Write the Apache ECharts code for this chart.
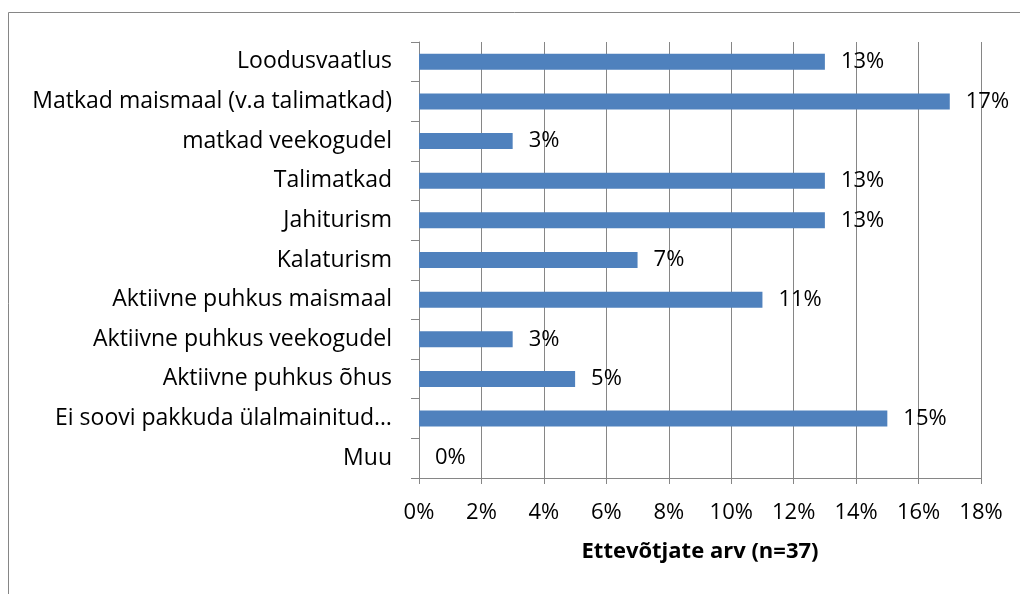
<!DOCTYPE html>
<html>
<head>
<meta charset="utf-8">
<script src="https://cdn.jsdelivr.net/npm/echarts@6/dist/echarts.min.js"></script>
<style>
  html, body { margin: 0; padding: 0; background: #fff; }
  #chart { width: 1020px; height: 594px; }
</style>
</head>
<body>
<div id="chart"></div>
<script>
// andmed ülevalt alla
const categories = [
  'Loodusvaatlus',
  'Matkad maismaal (v.a talimatkad)',
  'matkad veekogudel',
  'Talimatkad',
  'Jahiturism',
  'Kalaturism',
  'Aktiivne puhkus maismaal',
  'Aktiivne puhkus veekogudel',
  'Aktiivne puhkus õhus',
  'Ei soovi pakkuda ülalmainitud…',
  'Muu'
];
const values = [13, 17, 3, 13, 13, 7, 11, 3, 5, 15, 0];
const xTicks = [0, 2, 4, 6, 8, 10, 12, 14, 16, 18];

const chart = echarts.init(document.getElementById('chart'));
const font = '"Open Sans", sans-serif';
const grey = '#868686';

chart.setOption({
  animation: false,
  textStyle: { fontFamily: font },
  graphic: [{
    type: 'rect',
    shape: { x: 8.5, y: 12.5, width: 1100, height: 700 },
    style: { fill: 'none', stroke: grey, lineWidth: 1 },
    silent: true
  }],
  grid: { left: 419, right: 39, top: 42, bottom: 116 },
  xAxis: {
    type: 'value',
    min: xTicks[0],
    max: xTicks[xTicks.length - 1],
    interval: 2,
    name: 'Ettevõtjate arv (n=37)',
    nameLocation: 'middle',
    nameGap: 63,
    nameTextStyle: { fontSize: 22, fontWeight: 'bold', color: '#000', fontFamily: font },
    axisLine: { show: true, lineStyle: { color: grey } },
    axisTick: { show: true, length: 6, lineStyle: { color: grey } },
    axisLabel: { formatter: '{value}%', fontSize: 22, color: '#000', margin: 24, fontFamily: font },
    splitLine: { show: true, lineStyle: { color: grey } }
  },
  yAxis: {
    type: 'category',
    data: categories,
    inverse: true,
    axisLine: { show: true, lineStyle: { color: grey } },
    axisTick: { show: true, length: 8, lineStyle: { color: grey } },
    axisLabel: { fontSize: 23, color: '#000', margin: 27, fontFamily: font },
    splitLine: { show: false }
  },
  series: [{
    type: 'bar',
    data: values,
    barWidth: 16,
    itemStyle: { color: '#4F81BD' },
    label: {
      show: true,
      position: 'right',
      distance: 16,
      formatter: '{c}%',
      fontSize: 22,
      color: '#000',
      fontFamily: font
    }
  }]
});
</script>
</body>
</html>
